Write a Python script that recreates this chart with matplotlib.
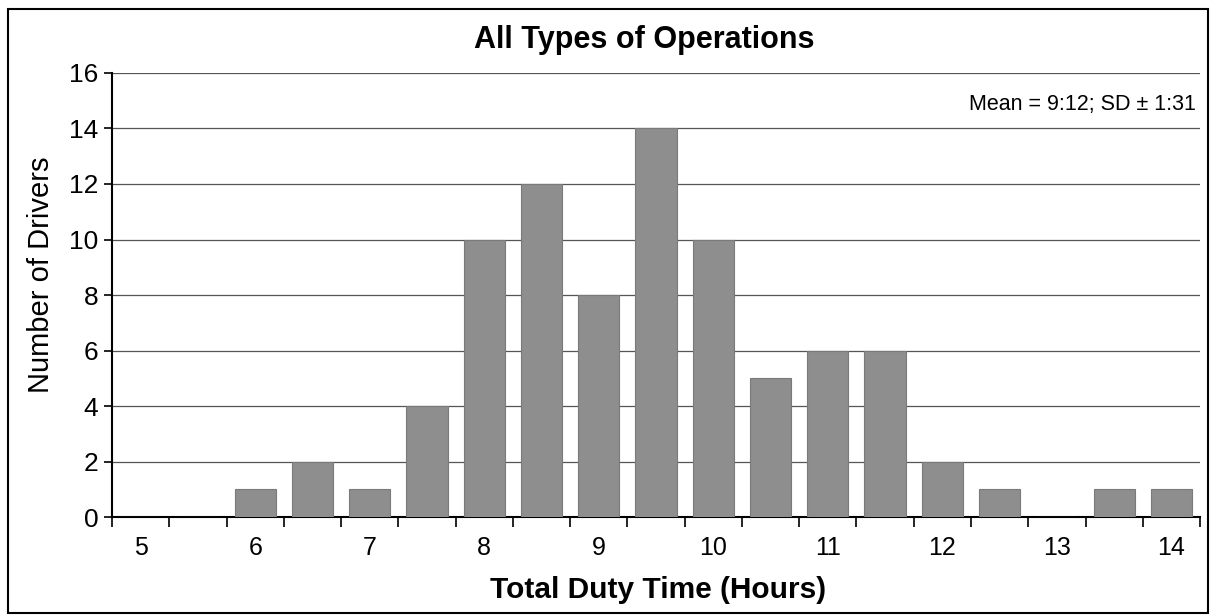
import matplotlib
matplotlib.use("Agg")
import matplotlib.pyplot as plt
from matplotlib.patches import Rectangle

plt.rcParams['font.family'] = ['Liberation Sans', 'DejaVu Sans']

hours = [5, 5.5, 6, 6.5, 7, 7.5, 8, 8.5, 9, 9.5, 10, 10.5, 11, 11.5, 12, 12.5, 13, 13.5, 14]
drivers = [0, 0, 1, 2, 1, 4, 10, 12, 8, 14, 10, 5, 6, 6, 2, 1, 0, 1, 1]
tick_labels = ['5', '6', '7', '8', '9', '10', '11', '12', '13', '14']
title = "All Types of Operations"
note = "Mean = 9:12; SD \u00b1 1:31"

fig = plt.figure(figsize=(12.14, 6.16), dpi=100)
ax = fig.add_axes([0.0923, 0.1607, 0.8962, 0.7208])

idx = list(range(len(hours)))
ax.bar(idx, drivers, width=0.72, color='#8e8e8e', edgecolor='#7a7a7a', linewidth=0.8, zorder=3)

ax.set_xlim(-0.5, len(hours) - 0.5)
ax.set_ylim(0, 16)
ax.set_yticks(range(0, 17, 2))
ax.yaxis.grid(True, color='#555555', linewidth=0.9, zorder=0)
ax.set_axisbelow(True)

ax.set_xticks([i for i, h in enumerate(hours) if float(h).is_integer()])
ax.set_xticklabels(tick_labels)
ax.set_xticks([i - 0.5 for i in range(len(hours) + 1)], minor=True)
ax.tick_params(axis='x', which='major', length=0, pad=14, labelsize=18)
ax.tick_params(axis='x', which='minor', length=7, width=1.2, direction='out', color='black')
ax.tick_params(axis='y', length=6, width=1.2, direction='out', labelsize=19, pad=4)

for s in ['top', 'right']:
    ax.spines[s].set_visible(False)
for s in ['left', 'bottom']:
    ax.spines[s].set_linewidth(1.5)
    ax.spines[s].set_color('black')

ax.set_xlabel("Total Duty Time (Hours)", fontsize=21.5, fontweight='bold')
ax.xaxis.set_label_coords(0.502, -0.132)
ax.set_ylabel("Number of Drivers", fontsize=21)
ax.yaxis.set_label_coords(-0.052, 0.545)
fig.text(0.531, 0.935, title, ha='center', va='center', fontsize=22, fontweight='bold')
ax.text(0.996, 0.93, note, transform=ax.transAxes, ha='right', va='center', fontsize=15.5)

fig.patches.append(Rectangle((0.007, 0.005), 0.988, 0.98, transform=fig.transFigure,
                             fill=False, edgecolor='black', linewidth=1.5))

fig.savefig("out.png", dpi=100)
